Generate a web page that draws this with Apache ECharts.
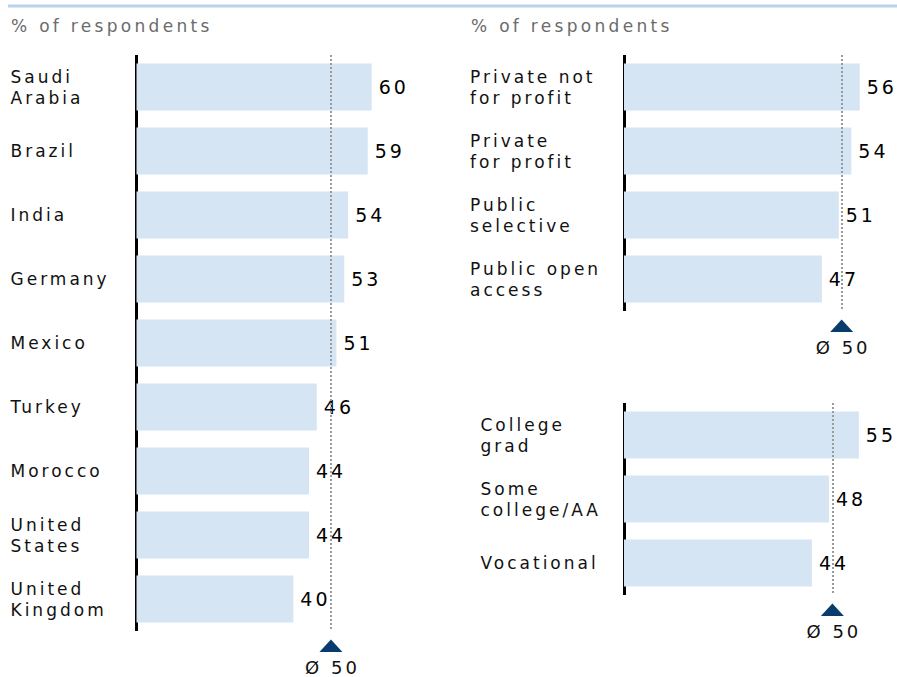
<!DOCTYPE html>
<html><head><meta charset="utf-8">
<script src="https://cdn.jsdelivr.net/npm/echarts@6/dist/echarts.min.js"></script>
<style>
html,body{margin:0;padding:0;background:#fff;}
#c{width:897px;height:677px;}
#c text[style*="xval"]{letter-spacing:3px;}
#c text[style*="xcat"]{letter-spacing:3px;}
#c text[style*="xttl"]{letter-spacing:3.3px;}
</style></head><body><div id="c"></div>
<script>
// ---- data ----
const countries = ['Saudi\nArabia','Brazil','India','Germany','Mexico','Turkey','Morocco','United\nStates','United\nKingdom'];
const countryValues = [60,59,54,53,51,46,44,44,40];
const institutionTypes = ['Private not\nfor profit','Private\nfor profit','Public\nselective','Public open\naccess'];
const institutionValues = [56,54,51,47];
const educationLevels = ['College\ngrad','Some\ncollege/AA','Vocational'];
const educationValues = [55,48,44];
const averages = [50,50,50];
const averageLineAt = [49.6,51.7,48.8]; // where the dotted average line sits in each panel
const axisMax = [70,60,60];
const unitLabel = '% of respondents';

// ---- layout / style ----
const CAT_FONT = "xcat, 'DejaVu Sans'";
const VAL_FONT = "xval, 'DejaVu Sans'";
const TTL_FONT = "xttl, 'DejaVu Sans'";
const BAR_COLOR = '#d6e5f3';
const panels = [
  {cats: countries, vals: countryValues, left: 136.5, top: 55, width: 70*3.92, height: 576, offset: 2, margin: 124},
  {cats: institutionTypes, vals: institutionValues, left: 624, top: 55, width: 60*4.21, height: 256, offset: 2.5, margin: 151.5},
  {cats: educationLevels, vals: educationValues, left: 624, top: 403, width: 60*4.27, height: 192, offset: 2.5, margin: 141}
];

const chart = echarts.init(document.getElementById('c'), null, {renderer: 'svg'});
const option = {
  animation: false,
  grid: panels.map(p => ({left: p.left, top: p.top, width: p.width, height: p.height, containLabel: false})),
  xAxis: panels.map((p, i) => ({type: 'value', gridIndex: i, min: 0, max: axisMax[i], show: false})),
  yAxis: panels.map((p, i) => ({
    type: 'category', gridIndex: i, data: p.cats, inverse: true, offset: p.offset,
    axisLine: {show: true, lineStyle: {color: '#000', width: 3, cap: 'butt'}},
    axisTick: {show: false}, splitLine: {show: false},
    axisLabel: {align: 'left', margin: p.margin, fontSize: 17, fontFamily: CAT_FONT, color: '#111', lineHeight: 21}
  })),
  series: panels.map((p, i) => ({
    type: 'bar', xAxisIndex: i, yAxisIndex: i, data: p.vals, barWidth: 47,
    itemStyle: {color: BAR_COLOR},
    label: {show: true, position: 'right', distance: 7, fontSize: 19, fontFamily: VAL_FONT, color: '#000'},
    markLine: {
      silent: true, symbol: ['none', 'none'], label: {show: false},
      lineStyle: {color: '#9a9a9a', type: [2, 2], width: 2},
      data: [{xAxis: averageLineAt[i]}]
    }
  }))
};
chart.setOption(option);

const graphic = [
  {type: 'line', shape: {x1: 8, y1: 6, x2: 897, y2: 6}, style: {stroke: '#b9d3ea', lineWidth: 3}},
  {type: 'text', x: 11, y: 25.5, style: {text: unitLabel, font: '17px ' + TTL_FONT, fill: '#6b6b6b', align: 'left', verticalAlign: 'middle'}},
  {type: 'text', x: 471, y: 25.5, style: {text: unitLabel, font: '17px ' + TTL_FONT, fill: '#6b6b6b', align: 'left', verticalAlign: 'middle'}}
];
panels.forEach((p, i) => {
  const x = chart.convertToPixel({xAxisIndex: i}, averageLineAt[i]);
  const apex = p.top + p.height + 8.5;
  graphic.push({type: 'polygon', shape: {points: [[x - 11.5, apex + 12.5], [x, apex], [x + 11.5, apex + 12.5]]}, style: {fill: '#083c6c'}});
  graphic.push({type: 'text', x: x + 1.5, y: apex + 28, style: {text: 'Ø ' + averages[i], font: '18px ' + VAL_FONT, fill: '#111', align: 'center', verticalAlign: 'middle'}});
});
chart.setOption({graphic});
</script></body></html>
